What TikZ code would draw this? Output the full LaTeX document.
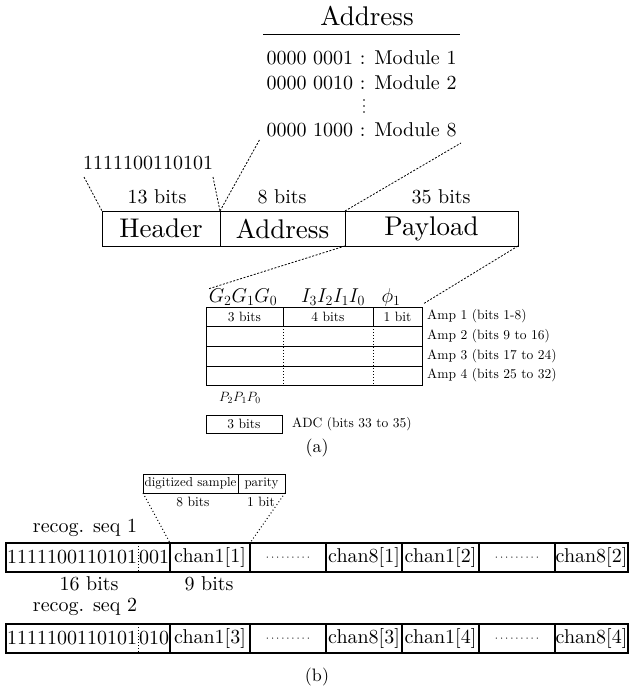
\RequirePackage{fix-cm}
\documentclass[tikz,border=0pt]{standalone}
\usepackage{fontspec}
\setmainfont{lmroman10-regular.otf}
\newcommand{\fbig}{\fontsize{27}{32}\selectfont}
\newcommand{\fmid}{\fontsize{20}{24}\selectfont}
\newcommand{\fsml}{\fontsize{13.5}{16}\selectfont}
\newcommand{\fdots}{\fontsize{11.5}{14}\selectfont}
\tikzset{
  lbl/.style={inner sep=1pt, font=\fmid},
  slbl/.style={inner sep=1pt, font=\fsml},
  bigcell/.style={draw, line width=1pt, minimum height=35, inner sep=0, outer sep=0, anchor=north west, font=\fbig},
  tabcell/.style={draw, line width=1pt, inner sep=0, outer sep=0, anchor=north west, font=\fsml},
  seqcell/.style={draw, line width=1.2pt, minimum height=29, inner sep=0, outer sep=0, anchor=north west, font=\fmid},
  plaincell/.style={seqcell, draw=none},
  dashlink/.style={line width=0.8pt, dash pattern=on 2pt off 1.6pt},
  dotlink/.style={line width=1pt, dash pattern=on 1pt off 2.4pt},
  dotdiv/.style={line width=0.9pt, dash pattern=on 1pt off 2pt},
  vdot/.style={circle, fill, inner sep=0, minimum size=1.6pt},
}
\begin{document}
\begin{tikzpicture}[x=1pt, y=-1pt]
\useasboundingbox (0,0) rectangle (631,693);

% ---------- address table ----------
\node[font=\fbig, inner sep=0] (addrtitle) at (367,16) {Address};
\coordinate (ruleL) at (263,34);
\coordinate (ruleR) at (460,34);
\draw[line width=0.9pt] (ruleL) -- (ruleR);
\node[lbl] (mod1) at (361.5,58) {0000 0001 : Module 1};
\node[lbl] (mod2) at (361.5,83) {0000 0010 : Module 2};
\node[vdot] (vd1) at (364,100) {};
\node[vdot] (vd2) at (364,106) {};
\node[vdot] (vd3) at (364,112) {};
\node[lbl] (mod8) at (361.5,130) {0000 1000 : Module 8};
\coordinate (m8SW) at (260,139);
\coordinate (m8SE) at (461,143);

% ---------- frame ----------
\node[lbl] (pre) at (148,163) {1111100110101};
\coordinate (preSW) at (84,177);
\coordinate (preSE) at (213,177);
\node[lbl] (b13) at (157,197) {13 bits};
\node[lbl] (b8) at (282,197) {8 bits};
\node[lbl] (b35) at (441,197) {35 bits};

\node[bigcell, minimum width=118] (hdr) at (102,211) {Header};
\node[bigcell, minimum width=125] (adr) at (220,211) {Address};
\node[bigcell, minimum width=173] (pay) at (345,211) {Payload};

\draw[dashlink] (preSW) -- (hdr.north west);
\draw[dashlink] (preSE) -- (hdr.north east);
\draw[dashlink] (adr.north west) -- (m8SW);
\draw[dashlink] (pay.north west) -- (m8SE);

% ---------- payload table ----------
\node[lbl, inner sep=0] (gh) at (243,297) {$G_2G_1G_0$};
\node[lbl, inner sep=0] (ih) at (333,297) {$I_3I_2I_1I_0$};
\node[lbl, inner sep=0] (ph) at (391,297) {$\phi_1$};

\node[tabcell, minimum width=77, minimum height=19] (c1) at (206,307) {3 bits};
\node[tabcell, minimum width=90, minimum height=19] (c2) at (283,307) {4 bits};
\node[tabcell, minimum width=49, minimum height=19] (c3) at (373,307) {1 bit};
\node[tabcell, minimum width=216, minimum height=20] (r2) at (206,326) {};
\node[tabcell, minimum width=216, minimum height=20] (r3) at (206,346) {};
\node[tabcell, minimum width=216, minimum height=19] (r4) at (206,366) {};
\draw[dotdiv] (c1.south east) -- (c1.south east |- r4.south);
\draw[dotdiv] (c3.south west) -- (c3.south west |- r4.south);

\coordinate (tabTL) at (208,289);
\draw[dashlink] (pay.south west) -- (tabTL);
\draw[dashlink] (pay.south east) -- ([shift={(1,-3)}]c3.north east);

\node[slbl, anchor=west, inner sep=0] (amp1) at ([xshift=5]c3.east) {Amp 1 (bits 1-8)};
\node[slbl, anchor=west, inner sep=0] (amp2) at ([xshift=5]r2.east) {Amp 2 (bits 9 to 16)};
\node[slbl, anchor=west, inner sep=0] (amp3) at ([xshift=5]r3.east) {Amp 3 (bits 17 to 24)};
\node[slbl, anchor=west, inner sep=0] (amp4) at ([xshift=5]r4.east) {Amp 4 (bits 25 to 32)};

\node[slbl] (pp) at (240,398) {$P_2P_1P_0$};
\node[tabcell, minimum width=76, minimum height=18] (adc) at (206,415) {3 bits};
\node[slbl, anchor=west, inner sep=0] (adcl) at ([xshift=10]adc.east) {ADC (bits 33 to 35)};

\node[font=\fontsize{18}{22}\selectfont, inner sep=0] (capa) at (317,448) {(a)};

% ---------- channel word ----------
\node[tabcell, minimum width=95, minimum height=19, font=\fontsize{13}{16}\selectfont] (ds) at (143,474) {digitized sample};
\node[tabcell, minimum width=47, minimum height=19, font=\fontsize{13}{16}\selectfont] (par) at (238,474) {parity};
\node[slbl] (b8s) at (193,502) {8 bits};
\node[slbl] (b1s) at (261,502) {1 bit};

% ---------- data stream, sequence 1 ----------
\node[lbl] (rs1) at (85,528) {recog. seq 1};
\node[plaincell, minimum width=132] (s1bits) at (6,543) {1111100110101};
\node[plaincell, minimum width=32] (s1num) at (138,543) {001};
\draw[line width=1.2pt] (s1bits.north west) rectangle (s1num.south east);
\draw[dotdiv] (s1bits.north east) -- (s1bits.south east);
\node[seqcell, minimum width=80] (s1a) at (170,543) {chan1[1]};
\node[seqcell, minimum width=76, font=\fdots] (s1b) at (250,543) {$\cdots\cdots\cdots$};
\node[seqcell, minimum width=76] (s1c) at (326,543) {chan8[1]};
\node[seqcell, minimum width=77] (s1d) at (402,543) {chan1[2]};
\node[seqcell, minimum width=76, font=\fdots] (s1e) at (479,543) {$\cdots\cdots\cdots$};
\node[seqcell, minimum width=73] (s1f) at (555,543) {chan8[2]};

\draw[dotlink] (ds.south west) -- (s1a.north west);
\draw[dotlink] (par.south east) -- (s1a.north east);

\node[lbl, inner sep=0] (b16) at (89,584) {16 bits};
\node[lbl, inner sep=0] (b9) at (209,584) {9 bits};

% ---------- data stream, sequence 2 ----------
\node[lbl, inner sep=0] (rs2) at (85,607) {recog. seq 2};
\node[plaincell, minimum width=132] (s2bits) at (6,624) {1111100110101};
\node[plaincell, minimum width=32] (s2num) at (138,624) {010};
\draw[line width=1.2pt] (s2bits.north west) rectangle (s2num.south east);
\draw[dotdiv] (s2bits.north east) -- (s2bits.south east);
\node[seqcell, minimum width=80] (s2a) at (170,624) {chan1[3]};
\node[seqcell, minimum width=76, font=\fdots] (s2b) at (250,624) {$\cdots\cdots\cdots$};
\node[seqcell, minimum width=76] (s2c) at (326,624) {chan8[3]};
\node[seqcell, minimum width=77] (s2d) at (402,624) {chan1[4]};
\node[seqcell, minimum width=76, font=\fdots] (s2e) at (479,624) {$\cdots\cdots\cdots$};
\node[seqcell, minimum width=73] (s2f) at (555,624) {chan8[4]};

\node[font=\fontsize{18}{22}\selectfont, inner sep=0] (capb) at (317,677) {(b)};
\end{tikzpicture}
\end{document}
